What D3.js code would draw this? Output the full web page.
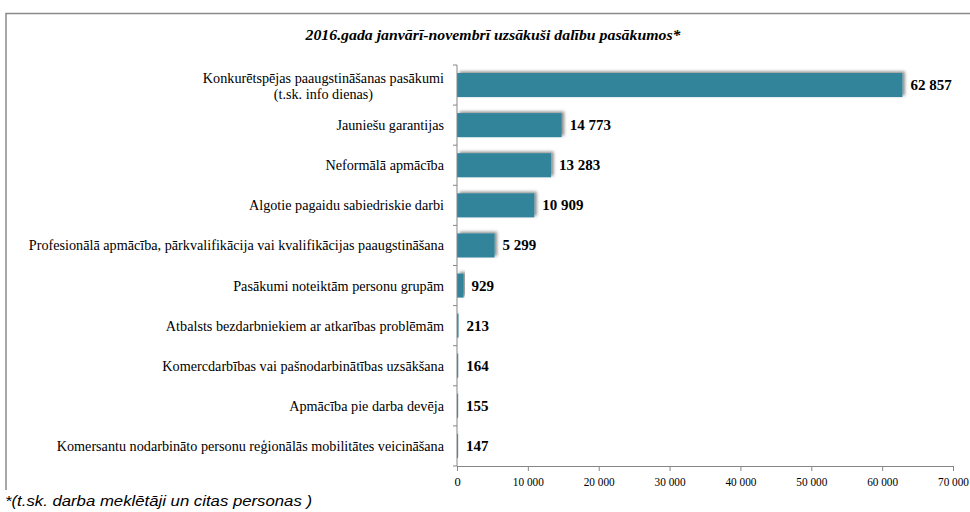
<!DOCTYPE html>
<html><head><meta charset="utf-8">
<script src="https://cdn.jsdelivr.net/npm/d3@7"></script>
<style>body{margin:0;background:#fff;} svg{display:block;} .serif{font-family:"Liberation Serif","Times New Roman",Times,"DejaVu Serif",serif;}</style>
</head><body>
<svg id="c" width="970" height="512"></svg>
<script>
const categories = [
  ["Konkurētspējas paaugstināšanas pasākumi", "(t.sk. info dienas)"],
  ["Jauniešu garantijas"],
  ["Neformālā apmācība"],
  ["Algotie pagaidu sabiedriskie darbi"],
  ["Profesionālā apmācība, pārkvalifikācija vai kvalifikācijas paaugstināšana"],
  ["Pasākumi noteiktām personu grupām"],
  ["Atbalsts bezdarbniekiem ar atkarības problēmām"],
  ["Komercdarbības vai pašnodarbinātības uzsākšana"],
  ["Apmācība pie darba devēja"],
  ["Komersantu nodarbināto personu reģionālās mobilitātes veicināšana"]
];
const values = [62857, 14773, 13283, 10909, 5299, 929, 213, 164, 155, 147];
const tickValues = [0, 10000, 20000, 30000, 40000, 50000, 60000, 70000];
const title = "2016.gada janvārī-novembrī uzsākuši dalību pasākumos*";
const footnote = "*(t.sk. darba meklētāji un citas personas )";

(function () {
const svg = d3.select("#c");
const fmt = v => d3.format(",")(v).replace(/,/g, " ");
const fmtTick = v => d3.format(",")(v).replace(/,/g, " ");

const mLeft = 457, mRight = 953, mTop = 65, mBottom = 466;
const x = d3.scaleLinear().domain([0, 70000]).range([mLeft, mRight]);
const y = d3.scaleBand().domain(d3.range(values.length)).range([mTop, mBottom]).paddingInner(0.4).paddingOuter(0.2);

// frame
svg.append("path").attr("d", "M6,490 V13.5 H970").attr("fill", "none").attr("stroke", "#8a8a8a").attr("stroke-width", 1.5);

// title
svg.append("text").attr("class", "serif").attr("x", 493).attr("y", 40).attr("text-anchor", "middle")
  .attr("font-weight", "bold").attr("font-style", "italic")
  .attr("font-size", 15.5).attr("textLength", 375).attr("lengthAdjust", "spacingAndGlyphs").text(title);

// shadow filter
const defs = svg.append("defs");
const f = defs.append("filter").attr("id", "sh").attr("x", "-20%").attr("y", "-50%").attr("width", "140%").attr("height", "200%");
f.append("feDropShadow").attr("dx", 2.5).attr("dy", -1.5).attr("stdDeviation", 1.8).attr("flood-color", "#000").attr("flood-opacity", 0.45);

// bars
svg.append("g").selectAll("rect").data(values).join("rect")
  .attr("x", x(0)).attr("y", (d, i) => y(i)).attr("width", d => x(d) - x(0)).attr("height", y.bandwidth())
  .attr("fill", "#31849b").attr("filter", "url(#sh)");

// value labels
svg.append("g").attr("class", "serif").selectAll("text").data(values).join("text")
  .attr("x", d => x(d) + 8).attr("y", (d, i) => y(i) + y.bandwidth() / 2 + 5)
  .attr("font-weight", "bold").attr("font-size", 15)
  .attr("fill", "#000").text(d => fmt(d));

// y axis line + ticks
const yb = d3.range(values.length + 1).map(i => mTop + i * (mBottom - mTop) / values.length);
svg.append("line").attr("x1", mLeft).attr("x2", mLeft).attr("y1", mTop).attr("y2", mBottom).attr("stroke", "#868686");
svg.append("g").selectAll("line").data(yb).join("line")
  .attr("x1", mLeft - 4).attr("x2", mLeft).attr("y1", d => d).attr("y2", d => d).attr("stroke", "#868686");

// category labels
const cg = svg.append("g").attr("class", "serif").attr("font-size", 14.2).attr("fill", "#000");
categories.forEach((lines, i) => {
  const cy = y(i) + y.bandwidth() / 2;
  if (lines.length === 1) {
    cg.append("text").attr("x", 444).attr("y", cy + 5).attr("text-anchor", "end").text(lines[0]);
  } else {
    const t1 = cg.append("text").attr("x", 444).attr("y", cy - 2).attr("text-anchor", "end").text(lines[0]);
    const w = t1.node().getComputedTextLength();
    cg.append("text").attr("x", 444 - w / 2).attr("y", cy + 14).attr("text-anchor", "middle").text(lines[1]);
  }
});

// x axis
const xa = svg.append("g").attr("transform", `translate(0,${mBottom})`)
  .call(d3.axisBottom(x).tickValues(tickValues).tickFormat(fmtTick).tickSize(5).tickPadding(6));
xa.attr("font-family", null);
xa.select(".domain").attr("stroke", "#868686");
xa.selectAll(".tick line").attr("stroke", "#868686");
xa.selectAll(".tick text").attr("class", "serif").attr("font-size", 12.5).attr("fill", "#000")
  .attr("textLength", d => d === 0 ? null : 31).attr("lengthAdjust", "spacingAndGlyphs");

// footnote
svg.append("text").attr("x", 5).attr("y", 506)
  .style("font-family", "'Liberation Sans', Arial, sans-serif").attr("font-style", "italic")
  .attr("font-size", 14.5).attr("textLength", 307).attr("lengthAdjust", "spacingAndGlyphs").text(footnote);
})();
</script>
</body></html>
